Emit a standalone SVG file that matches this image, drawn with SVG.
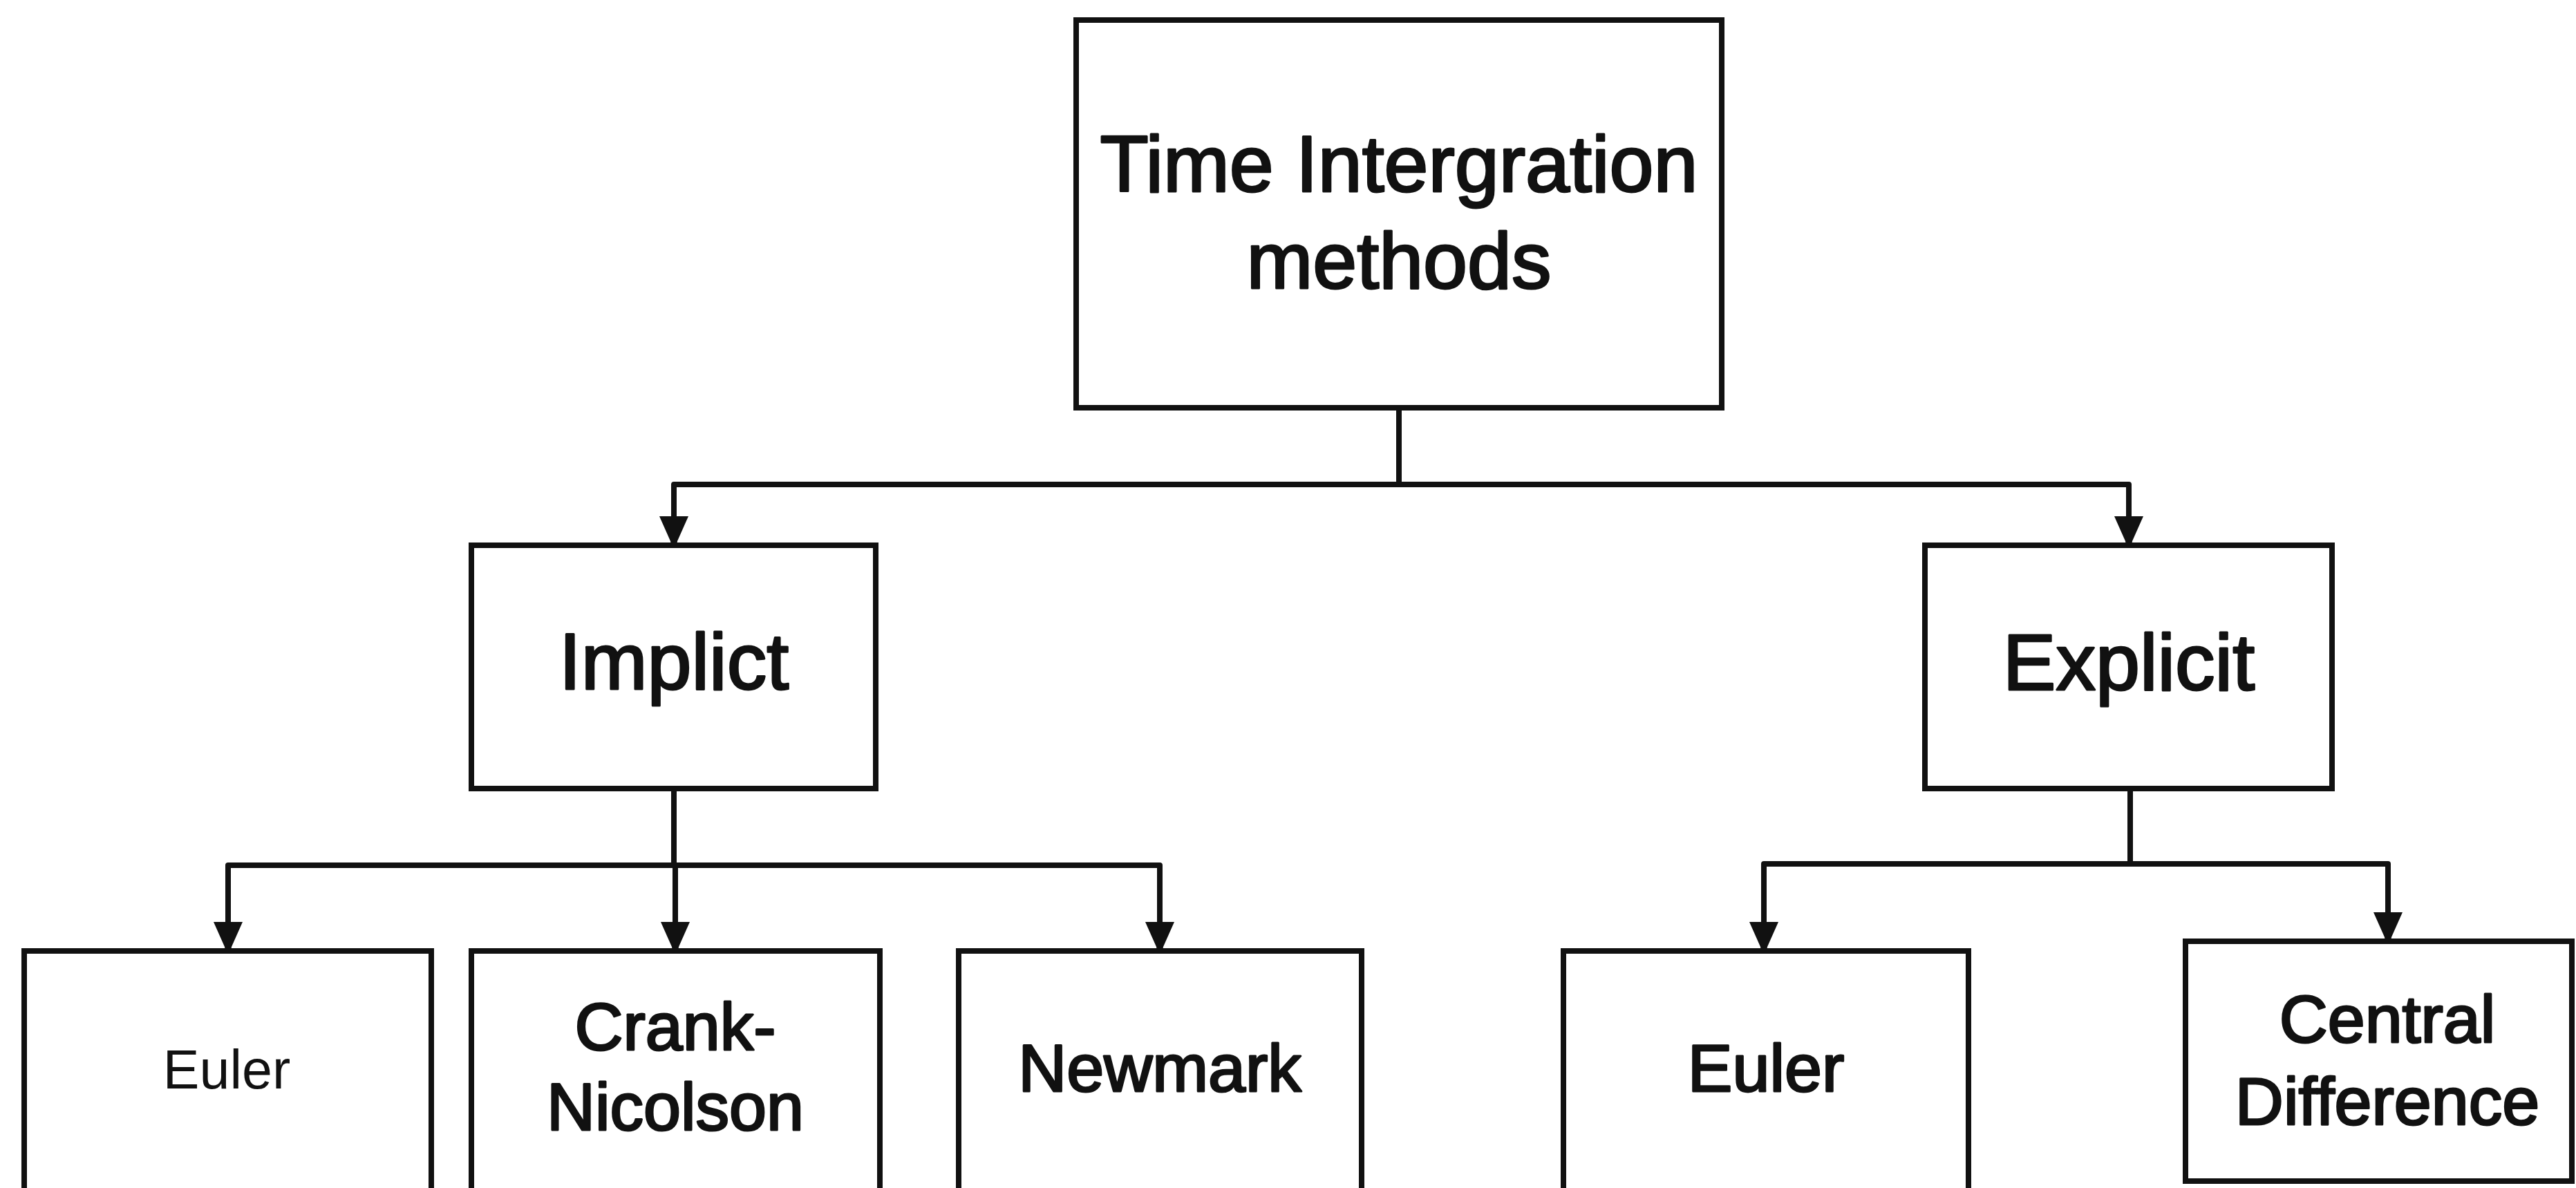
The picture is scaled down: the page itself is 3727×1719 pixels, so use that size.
<svg xmlns="http://www.w3.org/2000/svg" width="3727" height="1719" viewBox="0 0 3727 1719">
  <style>
    .box { fill: #ffffff; stroke: #111111; stroke-width: 8; }
    .wire { fill: none; stroke: #111111; stroke-width: 8; stroke-linejoin: round; }
    .lbl { font-family: "Liberation Sans", Arial, Helvetica, sans-serif; fill: #111111; text-anchor: middle; }
    .ink { stroke: #111111; stroke-width: 3; stroke-linejoin: round; }
    .big { font-size: 115px; }
    .mid { font-size: 97px; }
    .small { font-size: 79px; }
  </style>
  <defs>
    <!-- blunt, wide arrowhead pointing down; tip sits at the path end -->
    <marker id="down" markerUnits="userSpaceOnUse" markerWidth="48" markerHeight="48" viewBox="-24 -44 48 48" refX="0" refY="0" orient="0">
      <path d="M-21,-42 L21,-42 L5,-6 L4,0 L-4,0 L-5,-6 Z" fill="#111111"/>
    </marker>
  </defs>
  <rect width="3727" height="1719" fill="#ffffff"/>

  <!-- tree connectors -->
  <g id="connectors">
    <path class="wire" d="M2024,590 V701"/>
    <path class="wire" d="M975,789 V701 H3080 V789"/>
    <path class="wire" d="M975,701 V789" marker-end="url(#down)"/>
    <path class="wire" d="M3080,701 V789" marker-end="url(#down)"/>

    <path class="wire" d="M975,1141 V1252"/>
    <path class="wire" d="M330,1376 V1252 H1678 V1376"/>
    <path class="wire" d="M330,1252 V1376" marker-end="url(#down)"/>
    <path class="wire" d="M977,1252 V1376" marker-end="url(#down)"/>
    <path class="wire" d="M1678,1252 V1376" marker-end="url(#down)"/>

    <path class="wire" d="M3082,1141 V1250"/>
    <path class="wire" d="M2552,1376 V1250 H3455 V1362"/>
    <path class="wire" d="M2552,1250 V1376" marker-end="url(#down)"/>
    <path class="wire" d="M3455,1250 V1362" marker-end="url(#down)"/>
  </g>

  <g id="root">
    <rect class="box" x="1557" y="29" width="934" height="561"/>
    <text class="lbl ink big" x="2024" y="277">Time Intergration</text>
    <text class="lbl ink big" x="2024" y="417">methods</text>
  </g>

  <g id="implicit">
    <rect class="box" x="682" y="789" width="585" height="352"/>
    <text class="lbl ink big" x="975" y="997">Implict</text>
  </g>

  <g id="explicit">
    <rect class="box" x="2785" y="789" width="589" height="352"/>
    <text class="lbl ink big" x="3080" y="998">Explicit</text>
  </g>

  <g id="implicit-euler">
    <rect class="box" x="35" y="1376" width="589" height="360"/>
    <text class="lbl small" x="328" y="1575">Euler</text>
  </g>

  <g id="crank-nicolson">
    <rect class="box" x="682" y="1376" width="591" height="360"/>
    <text class="lbl ink mid" x="977" y="1519">Crank-</text>
    <text class="lbl ink mid" x="977" y="1635">Nicolson</text>
  </g>

  <g id="newmark">
    <rect class="box" x="1387" y="1376" width="583" height="360"/>
    <text class="lbl ink mid" x="1678" y="1579">Newmark</text>
  </g>

  <g id="explicit-euler">
    <rect class="box" x="2262" y="1376" width="586" height="360"/>
    <text class="lbl ink mid" x="2555" y="1579">Euler</text>
  </g>

  <g id="central-difference">
    <rect class="box" x="3162" y="1362" width="559" height="347"/>
    <text class="lbl ink mid" x="3454" y="1508">Central</text>
    <text class="lbl ink mid" x="3454" y="1627">Difference</text>
  </g>
</svg>
